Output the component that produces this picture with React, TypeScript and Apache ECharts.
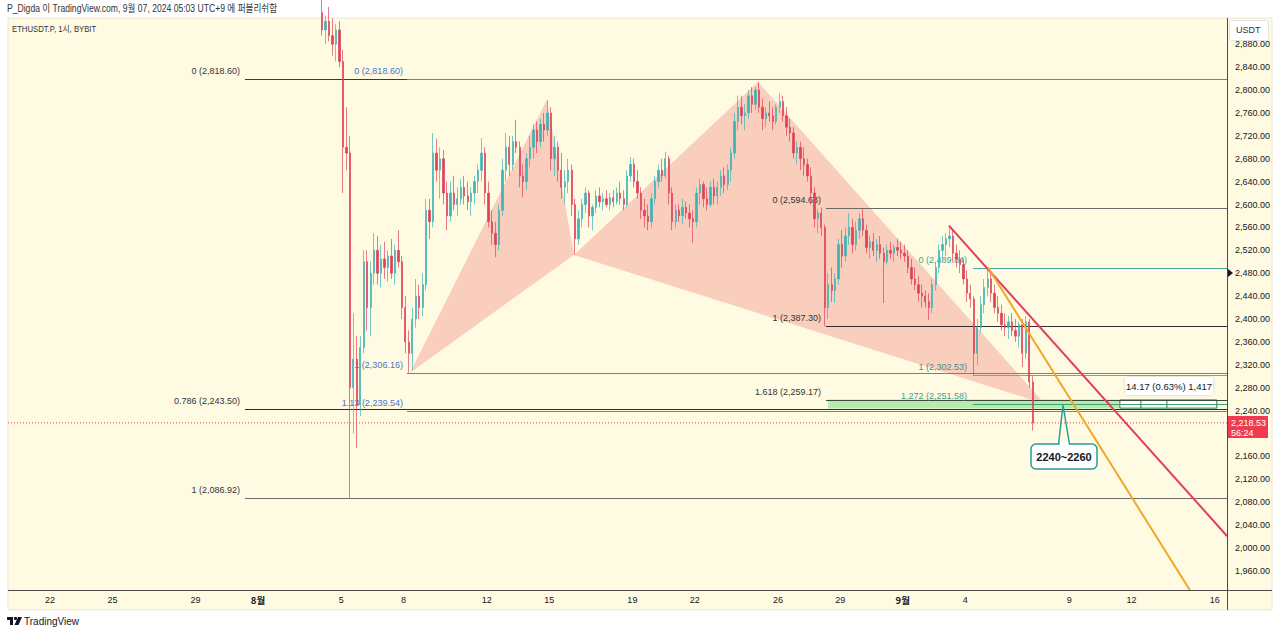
import React, { useEffect, useRef } from 'react';
import * as echarts from 'echarts';

// ---- axes (x = days since Aug 1 00:00, UTC+9) ----
const X_MIN = -12.02;
const X_MAX = 46.59;
const Y_MIN = 1926.6;
const Y_MAX = 2925.8;

const dayTicks = [-10, -7, -3, 0, 4, 7, 11, 14, 18, 21, 25, 28, 31, 34, 39, 42, 46];
const dayTickLabels = ['22', '25', '29', '8월', '5', '8', '12', '15', '19', '22', '26', '29', '9월', '4', '9', '12', '16'];
const priceTicks = [1960, 2000, 2040, 2080, 2120, 2160, 2240, 2280, 2320, 2360, 2400, 2440, 2480, 2520, 2560, 2600, 2640, 2680, 2720, 2760, 2800, 2840, 2880];

// ---- 4h candles starting Aug 4 00:00 ----
const startDay = 3;
const firstOpen = 2935;
const closes = [
  2905, 2920, 2895, 2880, 2905, 2850,
  2700, 2690, 2280, 2330, 2250, 2350,
  2500, 2420, 2480, 2520, 2480, 2505,
  2490, 2510, 2480, 2520, 2500, 2420,
  2360, 2340, 2400, 2440, 2420, 2460,
  2590, 2570, 2690, 2660, 2680, 2620,
  2580, 2620, 2600, 2610, 2630, 2615,
  2605, 2620, 2640, 2660, 2690, 2620,
  2570, 2550, 2530, 2590, 2660, 2700,
  2670, 2710, 2700, 2650, 2640, 2680,
  2700, 2730, 2710, 2740, 2730, 2760,
  2680, 2700, 2660, 2630, 2640, 2660,
  2600, 2540, 2575, 2600, 2620, 2580,
  2595, 2615, 2605, 2610, 2600, 2612,
  2605, 2620, 2610, 2600, 2650, 2670,
  2640, 2620, 2590, 2580, 2570, 2610,
  2640, 2660, 2650, 2680, 2620, 2570,
  2590, 2580, 2595, 2585, 2575, 2570,
  2620, 2635, 2610, 2600, 2630, 2615,
  2630, 2650, 2635, 2660, 2690, 2745,
  2770, 2755, 2760, 2790, 2775, 2800,
  2770, 2750, 2760, 2755, 2745, 2770,
  2780, 2755, 2735, 2725, 2690, 2700,
  2680, 2670, 2650, 2620, 2575, 2585,
  2560, 2420, 2460, 2450, 2470, 2530,
  2510, 2545, 2560, 2530, 2555, 2575,
  2555, 2525, 2535, 2520, 2530, 2515,
  2500, 2520, 2515, 2525, 2520, 2515,
  2510, 2490, 2470, 2460, 2445, 2440,
  2430, 2420, 2460, 2490, 2520, 2530,
  2540, 2545, 2515, 2505, 2495, 2470,
  2445, 2435, 2340, 2385, 2425, 2455,
  2470, 2445, 2420, 2410, 2390, 2385,
  2395, 2380, 2370, 2390, 2340, 2395,
  2290, 2218.53,
];
const highs = [
  2960, 2930, 2945, 2925, 2915, 2920,
  2870, 2770, 2720, 2410, 2370, 2370,
  2520, 2520, 2500, 2550, 2545, 2530,
  2535, 2520, 2540, 2530, 2555, 2510,
  2440, 2380, 2420, 2470, 2460, 2480,
  2610, 2610, 2725, 2715, 2700, 2695,
  2640, 2640, 2650, 2630, 2645, 2650,
  2640, 2630, 2650, 2670, 2716, 2700,
  2640, 2590, 2570, 2600, 2680, 2725,
  2720, 2720, 2748, 2710, 2670, 2690,
  2720, 2740, 2745, 2750, 2760, 2783,
  2770, 2720, 2710, 2690, 2660, 2680,
  2670, 2610, 2590, 2610, 2630, 2625,
  2600, 2625, 2630, 2620, 2625, 2620,
  2625, 2630, 2640, 2625, 2660, 2683,
  2680, 2660, 2630, 2610, 2600, 2620,
  2650, 2670, 2680, 2692, 2685, 2630,
  2600, 2600, 2610, 2605, 2600, 2590,
  2630, 2645, 2640, 2630, 2640, 2645,
  2640, 2660, 2665, 2670, 2700, 2760,
  2790, 2790, 2775, 2800, 2805, 2805,
  2814, 2785, 2770, 2780, 2770, 2775,
  2795, 2790, 2770, 2750, 2735, 2710,
  2710, 2700, 2680, 2665, 2630, 2592,
  2594.63, 2565, 2480, 2490, 2480, 2540,
  2555, 2560, 2585, 2575, 2570, 2585,
  2594, 2565, 2545, 2550, 2540, 2545,
  2525, 2530, 2535, 2530, 2540, 2535,
  2530, 2520, 2505, 2490, 2475, 2460,
  2450, 2445, 2470, 2500, 2530, 2545,
  2550, 2564, 2555, 2530, 2520, 2505,
  2485, 2460, 2440, 2400, 2440, 2470,
  2489.84, 2480, 2460, 2440, 2425, 2410,
  2405, 2410, 2400, 2395, 2400, 2405,
  2400, 2300,
];
const lows = [
  2895, 2880, 2885, 2860, 2850, 2840,
  2620, 2660, 2086.92, 2200, 2175, 2230,
  2340, 2380, 2370, 2460, 2460, 2455,
  2470, 2465, 2470, 2460, 2490, 2400,
  2340, 2306.16, 2310, 2385, 2400, 2405,
  2450, 2540, 2560, 2640, 2610, 2600,
  2555, 2570, 2590, 2580, 2600, 2600,
  2590, 2580, 2600, 2620, 2640, 2600,
  2560, 2530, 2508, 2520, 2580, 2640,
  2650, 2660, 2690, 2630, 2613, 2625,
  2665, 2680, 2690, 2700, 2710, 2720,
  2660, 2650, 2640, 2610, 2600, 2620,
  2580, 2512, 2530, 2560, 2585, 2560,
  2555, 2585, 2595, 2590, 2595, 2590,
  2595, 2600, 2600, 2590, 2595, 2640,
  2630, 2610, 2575, 2560, 2555, 2560,
  2600, 2630, 2640, 2645, 2600, 2555,
  2560, 2570, 2565, 2575, 2560, 2533,
  2560, 2600, 2595, 2590, 2595, 2600,
  2600, 2615, 2620, 2625, 2640, 2680,
  2730, 2740, 2730, 2750, 2760, 2765,
  2760, 2730, 2735, 2745, 2730, 2740,
  2760, 2745, 2720, 2710, 2680, 2670,
  2660, 2650, 2640, 2600, 2560, 2550,
  2545, 2387.3, 2400, 2430, 2428, 2460,
  2490, 2500, 2530, 2515, 2520, 2540,
  2545, 2515, 2505, 2510, 2500, 2505,
  2428, 2495, 2505, 2500, 2510, 2505,
  2500, 2480, 2460, 2450, 2430, 2420,
  2420, 2398, 2410, 2450, 2480, 2505,
  2510, 2525, 2500, 2490, 2480, 2460,
  2430, 2420, 2302.53, 2320, 2375, 2410,
  2440, 2430, 2410, 2395, 2380, 2370,
  2365, 2370, 2360, 2350, 2316, 2330,
  2280, 2205,
];
const lastPrice = 2218.53;

// ---- drawings ----
const patternDays = [7.31, 13.89, 15.19, 24.04, 37.84];
const patternPrices = [2306.16, 2783, 2512, 2814, 2251.58];
const patternTriangles = [[0, 1, 2], [2, 3, 4]];

const fib1Levels = ['0', '0.786', '1'];
const fib1Prices = [2818.6, 2243.5, 2086.92];
const fib1Start = -0.625;
const fib2Levels = ['0', '1', '1.13'];
const fib2Prices = [2818.6, 2306.16, 2239.54];
const fib2Start = 7.16;
const fib3Levels = ['0', '1', '1.618'];
const fib3Prices = [2594.63, 2387.3, 2259.17];
const fib3Start = 27.31;
const fib4Levels = ['0', '1', '1.272'];
const fib4Prices = [2489.84, 2302.53, 2251.58];
const fib4Start = 34.375;

const zoneDays = [27.4, 41.44];
const zonePrices = [2259.17, 2243.8];
const measureDays = [41.44, 46.1];
const measurePrices = [2258.6, 2244.3];
const measureDividers = [42.45, 43.7];

const redTrendDays = [33.22, 46.59];
const redTrendPrices = [2563, 2021];
const orangeTrendDays = [35.1, 46.59];
const orangeTrendPrices = [2489.84, 1822.6];

const KFONT = '"Noto Sans CJK KR", "Noto Sans", sans-serif';
const BG = '#fffbe3';
const UP = '#3fb3b5';
const DOWN = '#e0405a';

const fmtPrice = (v: number) => v.toFixed(2).replace(/\B(?=(\d{3})+(?!\d))/g, ',');

function hasFont(name: string): boolean {
  try {
    const ctx = document.createElement('canvas').getContext('2d');
    if (!ctx) return false;
    const s = 'mmmmmmmmmmlli 0123456789,.WQ';
    ctx.font = '20px monospace';
    const a = ctx.measureText(s).width;
    ctx.font = `20px "${name}", monospace`;
    const b = ctx.measureText(s).width;
    ctx.font = '20px serif';
    const a2 = ctx.measureText(s).width;
    ctx.font = `20px "${name}", serif`;
    const b2 = ctx.measureText(s).width;
    return a !== b || a2 !== b2;
  } catch (e) {
    return false;
  }
}

function fibSeries(levels: string[], prices: number[], start: number, lineColors: string[], labelColors: string[], gap: number, font: string, size: number) {
  return {
    type: 'custom',
    z: 3,
    clip: true,
    silent: true,
    data: prices.map((p) => [start, p]),
    encode: { x: 0, y: 1 },
    renderItem: (params: any, api: any) => {
      const i = params.dataIndex;
      const s = api.coord([start, prices[i]]);
      const e = api.coord([X_MAX, prices[i]]);
      const y = Math.round(s[1]) + 0.5;
      return {
        type: 'group',
        children: [
          { type: 'line', shape: { x1: s[0], y1: y, x2: e[0], y2: y }, style: { stroke: lineColors[i], lineWidth: 1 } },
          {
            type: 'text',
            style: {
              text: `${levels[i]} (${fmtPrice(prices[i])})`,
              x: s[0] - gap,
              y: y - 9,
              align: 'right',
              verticalAlign: 'middle',
              fill: labelColors[i],
              fontSize: size,
              fontFamily: font,
            },
          },
        ],
      };
    },
  };
}

export default function App() {
  const ref = useRef<HTMLDivElement>(null);

  useEffect(() => {
    const chart = echarts.init(ref.current as HTMLDivElement, null, { renderer: 'svg' });

    const narrow = hasFont('Liberation Sans Narrow');
    const FONT = narrow
      ? '"Liberation Sans Narrow", "Noto Sans CJK KR", sans-serif'
      : '"Liberation Sans", Arial, "Noto Sans CJK KR", sans-serif';
    const SZ = narrow ? 10.5 : 9;
    const squeeze = narrow ? 1 : 0.86;

    const candles = closes.map((c, i) => {
      const o = i === 0 ? firstOpen : closes[i - 1];
      return [startDay + i / 6 + 1 / 12, o, c, lows[i], highs[i]];
    });

    const option: any = {
      animation: false,
      grid: { left: 8, right: 53, top: 18, bottom: 44 },
      xAxis: {
        type: 'value',
        min: X_MIN,
        max: X_MAX,
        axisLine: { show: false },
        axisTick: { show: false },
        splitLine: { show: false },
        axisLabel: {
          customValues: dayTicks,
          margin: 5,
          color: '#131722',
          fontSize: SZ,
          fontFamily: FONT,
          formatter: (v: number) => {
            const k = dayTicks.indexOf(Math.round(v));
            const t = k >= 0 ? dayTickLabels[k] : '';
            return t.indexOf('월') >= 0 ? `{b|${t}}` : t;
          },
          rich: { b: { fontWeight: 'bold', fontSize: 9.5, color: '#131722', fontFamily: KFONT } },
        },
      },
      yAxis: {
        type: 'value',
        position: 'right',
        min: Y_MIN,
        max: Y_MAX,
        axisLine: { show: false },
        axisTick: { show: false },
        splitLine: { show: false },
        axisLabel: {
          customValues: priceTicks,
          margin: 8,
          color: '#131722',
          fontSize: SZ,
          fontFamily: FONT,
          formatter: (v: number) => fmtPrice(v),
        },
      },
      series: [
        {
          type: 'custom',
          z: 1,
          clip: true,
          silent: true,
          data: patternTriangles.map((t) => [patternDays[t[0]], patternPrices[t[0]]]),
          encode: { x: 0, y: 1 },
          renderItem: (params: any, api: any) => {
            const tri = patternTriangles[params.dataIndex];
            const points = tri.map((k) => api.coord([patternDays[k], patternPrices[k]]));
            return { type: 'polygon', shape: { points }, style: { fill: '#f9cebd' } };
          },
        },
        {
          type: 'custom',
          z: 2,
          clip: true,
          silent: true,
          data: [[zoneDays[0], zonePrices[0]]],
          encode: { x: 0, y: 1 },
          renderItem: (params: any, api: any) => {
            const a = api.coord([zoneDays[0], zonePrices[0]]);
            const b = api.coord([zoneDays[1], zonePrices[1]]);
            const m1 = api.coord([measureDays[0], measurePrices[0]]);
            const m2 = api.coord([measureDays[1], measurePrices[1]]);
            const children: any[] = [
              { type: 'rect', shape: { x: a[0], y: a[1], width: b[0] - a[0], height: b[1] - a[1] }, style: { fill: '#b6ebae' } },
              { type: 'rect', shape: { x: m1[0], y: m1[1], width: m2[0] - m1[0], height: m2[1] - m1[1] }, style: { fill: 'rgba(255,255,255,0.75)', stroke: '#1f7a5a', lineWidth: 1 } },
            ];
            measureDividers.forEach((d) => {
              const p = api.coord([d, measurePrices[0]]);
              children.push({ type: 'line', shape: { x1: p[0], y1: m1[1], x2: p[0], y2: m2[1] }, style: { stroke: '#1f7a5a', lineWidth: 1 } });
            });
            return { type: 'group', children };
          },
        },
        fibSeries(fib1Levels, fib1Prices, fib1Start, ['#3a3a3a', '#2e2e2e', '#6e6e6e'], ['#333333', '#333333', '#333333'], 5, FONT, SZ),
        fibSeries(fib2Levels, fib2Prices, fib2Start, ['#5a82cf', '#5a82cf', '#5a82cf'], ['#4a76c8', '#4a76c8', '#4a76c8'], 4, FONT, SZ),
        fibSeries(fib3Levels, fib3Prices, fib3Start, ['#6a6a6a', '#2e2e2e', '#3c4a3c'], ['#333333', '#333333', '#333333'], 5, FONT, SZ),
        fibSeries(fib4Levels, fib4Prices, fib4Start, ['#4aa89a', '#7f9cc0', '#3aa36e'], ['#3f9c94', '#3f8f8f', '#3d9e8e'], 6, FONT, SZ),
        {
          type: 'line',
          z: 3,
          silent: true,
          symbol: 'none',
          data: [[X_MIN, lastPrice], [X_MAX, lastPrice]],
          lineStyle: { color: '#f23645', width: 1, type: [1, 2] },
        },
        {
          type: 'candlestick',
          z: 4,
          barWidth: 1.8,
          data: candles,
          encode: { x: 0, y: [1, 2, 3, 4] },
          itemStyle: { color: UP, color0: DOWN, borderColor: UP, borderColor0: DOWN, borderWidth: 0.7 },
        },
        {
          type: 'line',
          z: 5,
          silent: true,
          symbol: 'none',
          clip: true,
          data: redTrendDays.map((d, i) => [d, redTrendPrices[i]]),
          lineStyle: { color: '#df3e5e', width: 2 },
        },
        {
          type: 'line',
          z: 5,
          silent: true,
          symbol: 'none',
          clip: true,
          data: orangeTrendDays.map((d, i) => [d, orangeTrendPrices[i]]),
          lineStyle: { color: '#f4a52b', width: 2 },
        },
      ],
      graphic: [
        { type: 'rect', z: -10, silent: true, shape: { x: 8, y: 18, width: 1264, height: 592 }, style: { fill: BG, stroke: '#ece7cf', lineWidth: 1 } },
        { type: 'line', z: 50, silent: true, shape: { x1: 1227.5, y1: 18, x2: 1227.5, y2: 610 }, style: { stroke: '#4a4a4a', lineWidth: 1 } },
        { type: 'line', z: 50, silent: true, shape: { x1: 8, y1: 590.5, x2: 1272, y2: 590.5 }, style: { stroke: '#4a4a4a', lineWidth: 1 } },
        { type: 'text', z: 100, silent: true, x: 7, y: 9, scaleX: squeeze, style: { text: 'P_Digda 이 TradingView.com, 9월 07, 2024 05:03 UTC+9 에 퍼블리쉬함', x: 0, y: 0, verticalAlign: 'middle', fill: '#333333', fontSize: 10, fontFamily: FONT } },
        { type: 'text', z: 100, silent: true, x: 12, y: 29, scaleX: squeeze, style: { text: 'ETHUSDT.P, 1시, BYBIT', x: 0, y: 0, verticalAlign: 'middle', fill: '#333333', fontSize: SZ, fontFamily: FONT } },
        { type: 'rect', z: 100, silent: true, shape: { x: 1229.5, y: 20.5, width: 39, height: 20, r: 2 }, style: { fill: '#ffffff', stroke: '#e3e3e3', lineWidth: 1 } },
        { type: 'text', z: 101, silent: true, style: { text: 'USDT', x: 1236, y: 30, verticalAlign: 'middle', fill: '#333333', fontSize: SZ, fontFamily: FONT } },
        { type: 'polygon', z: 100, silent: true, shape: { points: [[1228, 269], [1233, 273], [1228, 277]] }, style: { fill: '#131722' } },
        { type: 'rect', z: 100, silent: true, shape: { x: 1228, y: 416, width: 40, height: 22 }, style: { fill: '#ef3a4f' } },
        { type: 'text', z: 101, silent: true, style: { text: fmtPrice(lastPrice), x: 1231, y: 422.5, verticalAlign: 'middle', fill: '#ffffff', fontSize: SZ, fontFamily: FONT } },
        { type: 'text', z: 101, silent: true, style: { text: '56:24', x: 1231, y: 432.5, verticalAlign: 'middle', fill: '#ffffff', fontSize: SZ, fontFamily: FONT } },
        { type: 'rect', z: 100, silent: true, shape: { x: 1125, y: 377, width: 88, height: 18, r: 3 }, style: { fill: '#ffffff', shadowBlur: 3, shadowColor: 'rgba(0,0,0,0.18)' } },
        { type: 'text', z: 101, silent: true, style: { text: '14.17 (0.63%) 1,417', x: 1169, y: 386, align: 'center', verticalAlign: 'middle', fill: '#131722', fontSize: narrow ? 10.5 : 9.5, fontFamily: FONT } },
        { type: 'rect', z: 100, silent: true, shape: { x: 1031, y: 444, width: 66, height: 25, r: 5 }, style: { fill: '#ffffff', stroke: '#2b9c9a', lineWidth: 1.5 } },
        { type: 'rect', z: 101, silent: true, shape: { x: 1059.5, y: 442, width: 9.5, height: 3.5 }, style: { fill: '#ffffff' } },
        { type: 'polyline', z: 101, silent: true, shape: { points: [[1058.5, 444.5], [1063, 405], [1069.5, 444.5]] }, style: { stroke: '#2b9c9a', lineWidth: 1.5, fill: 'none' } },
        { type: 'text', z: 102, silent: true, style: { text: '2240~2260', x: 1064, y: 457, align: 'center', verticalAlign: 'middle', fill: '#131722', fontSize: 11, fontWeight: 'bold', fontFamily: '"Liberation Sans", Arial, sans-serif' } },
        { type: 'rect', z: 100, silent: true, shape: { x: 7, y: 617, width: 6, height: 3 }, style: { fill: '#131722' } },
        { type: 'rect', z: 100, silent: true, shape: { x: 10, y: 617, width: 3, height: 8 }, style: { fill: '#131722' } },
        { type: 'circle', z: 100, silent: true, shape: { cx: 15.5, cy: 618.5, r: 1.6 }, style: { fill: '#131722' } },
        { type: 'polygon', z: 100, silent: true, shape: { points: [[18, 617], [22, 617], [18.5, 625], [14.5, 625]] }, style: { fill: '#131722' } },
        { type: 'text', z: 100, silent: true, style: { text: 'TradingView', x: 24, y: 621, verticalAlign: 'middle', fill: '#131722', fontSize: 10, fontFamily: '"Liberation Sans", Arial, sans-serif' } },
      ],
    };

    chart.setOption(option);
    return () => chart.dispose();
  }, []);

  return (
    <div
      ref={ref}
      style={{ position: 'absolute', left: 0, top: 0, width: 1280, height: 634, background: '#ffffff' }}
    />
  );
}
